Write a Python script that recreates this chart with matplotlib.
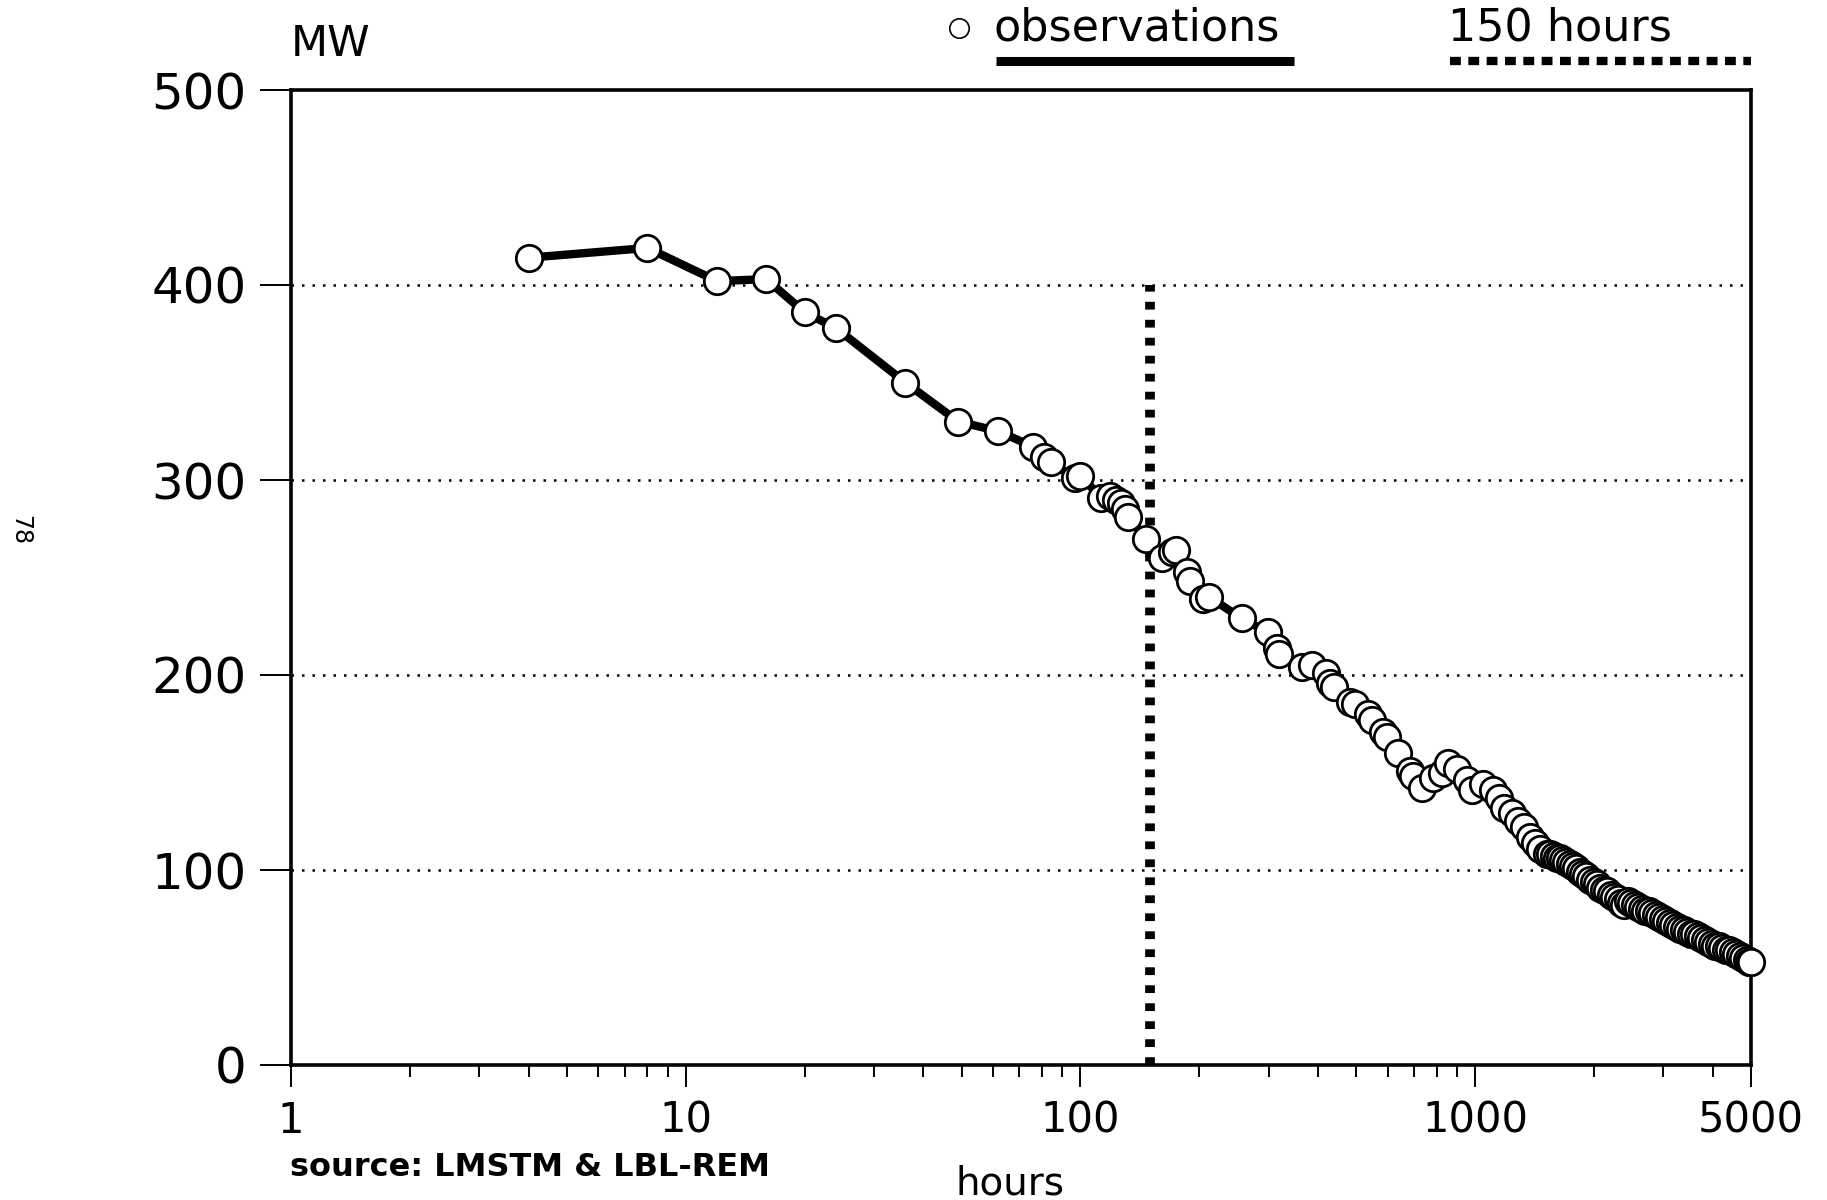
import matplotlib
matplotlib.use("Agg")
import matplotlib.pyplot as plt
from matplotlib.lines import Line2D
from matplotlib.ticker import FixedLocator, NullFormatter

# observations: hours (log axis) vs MW
hours = [4, 8, 12, 16, 20, 24, 36, 49, 62, 76, 81, 84, 97, 100, 113, 119, 123,
         127, 130, 132, 147, 161, 171, 175, 186, 190, 204, 212, 256, 298, 314,
         318, 364, 386, 419, 428, 440, 481, 495, 534, 547, 584, 597, 636, 685,
         698, 735, 782, 822, 852, 898, 952, 980, 1045, 1108, 1150, 1186, 1237,
         1284, 1330, 1378, 1420, 1460,
         1520, 1550, 1580, 1610, 1640, 1670, 1700, 1735, 1770, 1805, 1840, 1880,
         1915, 1955, 1995, 2035, 2075, 2120, 2160, 2205, 2250, 2295, 2340, 2390,
         2440, 2490, 2540, 2590, 2645, 2700, 2755, 2810, 2870, 2930, 2990, 3050,
         3115, 3180, 3245, 3310, 3380, 3450, 3520, 3595, 3670, 3745, 3820, 3900,
         3980, 4060, 4145, 4230, 4320, 4410, 4500, 4590, 4685, 4780, 4880, 4950,
         5000]
mw = [414, 419, 402, 403, 386, 378, 350, 330, 325, 317, 312, 309, 301, 302, 291,
      292, 290, 288, 285, 281, 270, 260, 263, 264, 253, 248, 239, 240, 229, 222,
      214, 211, 204, 205, 201, 196, 194, 186, 185, 180, 177, 171, 168, 160, 151,
      148, 142, 147, 150, 155, 152, 146, 141, 144, 141, 137, 132, 129, 125, 122,
      117, 114, 111,
      108, 108, 107, 106, 106, 105, 104, 103, 102, 101, 99, 98,
      97, 95, 94, 93, 91, 90, 89, 87, 86, 85, 83, 82,
      84, 83, 82, 81, 80, 79, 79, 78, 77, 76, 75, 74,
      73, 72, 71, 70, 69, 68, 67, 67, 66, 65, 64, 63,
      62, 61, 61, 60, 59, 59, 58, 57, 56, 55, 54, 53,
      53]

cutoff_hours = 150
cutoff_top = 400

x_major = [1, 10, 100, 1000, 5000]
x_labels = ["1", "10", "100", "1000", "5000"]
x_minor = [2, 3, 4, 5, 6, 7, 8, 9, 20, 30, 40, 50, 60, 70, 80, 90,
           200, 300, 400, 500, 600, 700, 800, 900, 2000, 3000, 4000]
y_ticks = [0, 100, 200, 300, 400, 500]
grid_levels = [100, 200, 300, 400]

plt.rcParams['font.family'] = ['DejaVu Sans']

fig = plt.figure(figsize=(18.27, 12), dpi=100)
ax = fig.add_axes([0.1593, 0.1125, 0.7991, 0.8125])

ax.set_xscale('log')
ax.set_xlim(1, 5000)
ax.set_ylim(0, 500)

for lvl in grid_levels:
    ax.axhline(lvl, color='black', lw=1.8, ls=(0, (1, 3.2)), zorder=1)

ax.plot([cutoff_hours, cutoff_hours], [0, cutoff_top], color='black', lw=7,
        ls=(0, (0.8, 1.05)), dash_capstyle='butt', zorder=2)

ax.plot(hours, mw, color='black', lw=6, marker='o', ms=19,
        mfc='white', mec='black', mew=2, zorder=3, clip_on=False)

ax.xaxis.set_major_locator(FixedLocator(x_major))
ax.xaxis.set_minor_locator(FixedLocator(x_minor))
ax.xaxis.set_minor_formatter(NullFormatter())
ax.set_xticklabels(x_labels)
ax.set_yticks(y_ticks)
ax.set_yticklabels([str(v) for v in y_ticks])

ax.tick_params(axis='x', which='major', direction='out', length=16, width=1.4,
               pad=9, labelsize=30)
ax.tick_params(axis='x', which='minor', direction='out', length=8.5, width=1.4)
ax.tick_params(axis='y', which='major', direction='out', length=22, width=1.4,
               pad=10, labelsize=36)

for s in ax.spines.values():
    s.set_linewidth(2.6)

# labels around the plot
fig.text(0.159, 0.963, "MW", fontsize=31, ha='left', va='center')
fig.text(0.159, 0.027, "source: LMSTM & LBL-REM", fontsize=23,
         fontweight='bold', ha='left', va='center')
fig.text(0.553, 0.014, "hours", fontsize=28, ha='center', va='center')
fig.text(0.011, 0.558, "78", fontsize=17, rotation=-90, ha='center', va='center')

# hand-drawn legend at the top
fig.add_artist(Line2D([0.525], [0.977], marker='o', ms=14, mfc='white',
                      mec='black', mew=1.2, transform=fig.transFigure))
fig.text(0.544, 0.977, "observations", fontsize=32, ha='left', va='center')
fig.add_artist(Line2D([0.545, 0.708], [0.949, 0.949], color='black', lw=6.5,
                      solid_capstyle='butt', transform=fig.transFigure))
fig.text(0.7926, 0.977, "150 hours", fontsize=32, ha='left', va='center')
fig.add_artist(Line2D([0.7937, 0.9584], [0.949, 0.949], color='black', lw=6,
                      ls=(0, (1.3, 0.9)), dash_capstyle='butt',
                      transform=fig.transFigure))

fig.savefig("out.png", dpi=100)
